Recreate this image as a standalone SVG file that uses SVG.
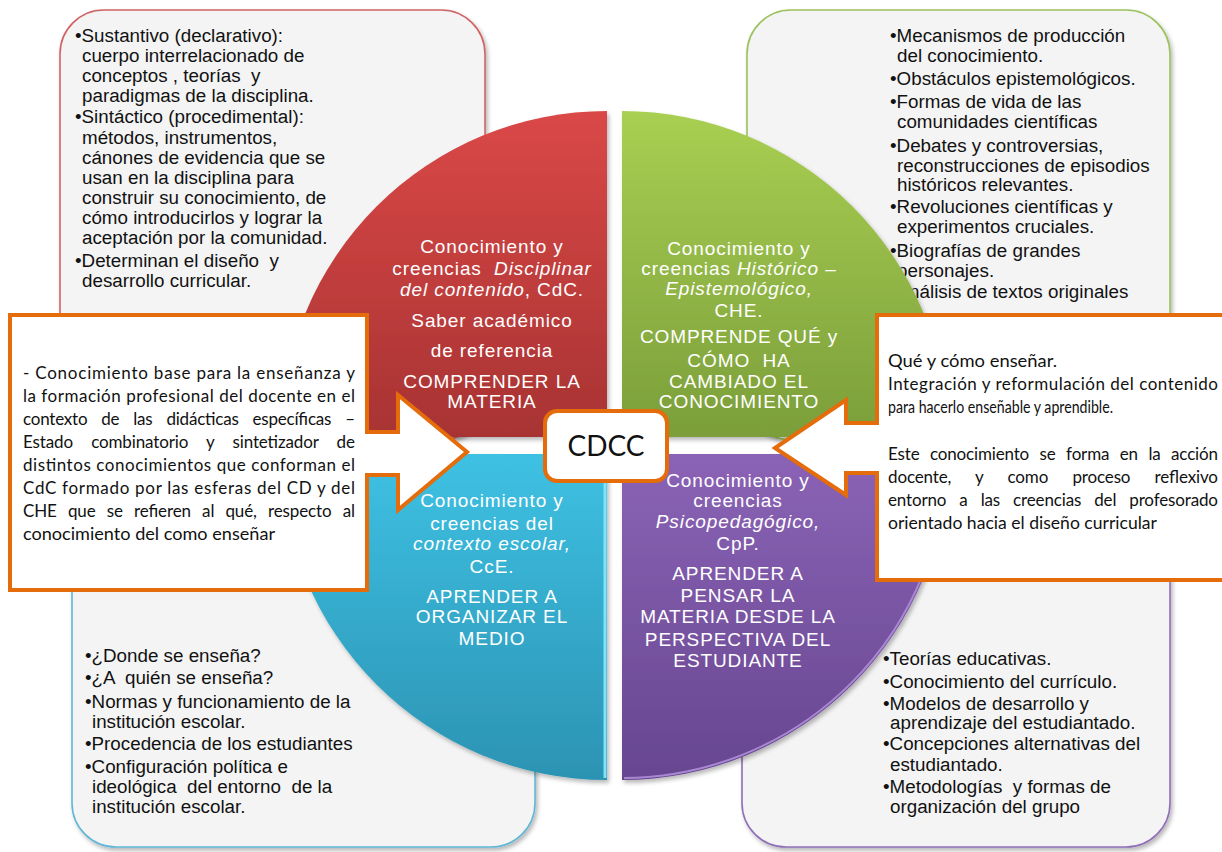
<svg xmlns="http://www.w3.org/2000/svg" width="1222" height="852" viewBox="0 0 1222 852" xml:space="preserve">
<defs>
  <filter id="shadow" x="-10%" y="-10%" width="120%" height="120%">
    <feDropShadow dx="2" dy="3" stdDeviation="2" flood-color="#000" flood-opacity="0.28"/>
  </filter>
  <linearGradient id="gRed" x1="0" y1="0" x2="0" y2="1">
    <stop offset="0" stop-color="#da4847"/>
    <stop offset="1" stop-color="#a83333"/>
  </linearGradient>
  <linearGradient id="gGreen" x1="0" y1="0" x2="0" y2="1">
    <stop offset="0" stop-color="#a9cf52"/>
    <stop offset="1" stop-color="#7b9e3a"/>
  </linearGradient>
  <linearGradient id="gBlue" x1="0" y1="0" x2="0" y2="1">
    <stop offset="0" stop-color="#3ec1e3"/>
    <stop offset="1" stop-color="#2c93b3"/>
  </linearGradient>
  <linearGradient id="gPurple" x1="0" y1="0" x2="0" y2="1">
    <stop offset="0" stop-color="#8b63b6"/>
    <stop offset="1" stop-color="#674690"/>
  </linearGradient>
  <style>
    text { white-space: pre; }
    .box { fill: #f4f4f4; stroke-width: 1.6; filter: url(#shadow); }
    .bt { font-family: "Liberation Sans", Arial, sans-serif; font-size: 18.8px; fill: #111; }
    .qt { font-family: "Liberation Sans", Arial, sans-serif; font-size: 19px; fill: #fff; text-anchor: middle; letter-spacing: 0.9px; }
    .it { font-style: italic; }
    .quad { filter: url(#shadow); }
    .call { fill: #fff; stroke: #e46c0a; stroke-width: 4; stroke-linejoin: miter; }
    .ct { font-family: Lato, "Noto Sans", sans-serif; font-size: 17px; fill: #111; }
  </style>
</defs>

<rect width="1222" height="852" fill="#fff"/>

<!-- corner boxes -->
<g id="box-disciplinar">
  <rect class="box" x="60" y="10" width="425" height="430" rx="44" stroke="#d06464"/>
  <text class="bt" x="75" y="42">•Sustantivo (declarativo):</text>
  <text class="bt" x="82" y="62">cuerpo interrelacionado de</text>
  <text class="bt" x="82" y="82">conceptos , teorías  y</text>
  <text class="bt" x="82" y="102">paradigmas de la disciplina.</text>
  <text class="bt" x="75" y="123">•Sintáctico (procedimental):</text>
  <text class="bt" x="82" y="144">métodos, instrumentos,</text>
  <text class="bt" x="82" y="164">cánones de evidencia que se</text>
  <text class="bt" x="82" y="184">usan en la disciplina para</text>
  <text class="bt" x="82" y="204">construir su conocimiento, de</text>
  <text class="bt" x="82" y="224">cómo introducirlos y lograr la</text>
  <text class="bt" x="82" y="244">aceptación por la comunidad.</text>
  <text class="bt" x="75" y="267">•Determinan el diseño  y</text>
  <text class="bt" x="82" y="287">desarrollo curricular.</text>
</g>

<g id="box-historico">
  <rect class="box" x="747" y="10" width="423" height="430" rx="44" stroke="#9cc25e"/>
  <text class="bt" x="890" y="42">•Mecanismos de producción</text>
  <text class="bt" x="897" y="62">del conocimiento.</text>
  <text class="bt" x="890" y="85">•Obstáculos epistemológicos.</text>
  <text class="bt" x="890" y="108">•Formas de vida de las</text>
  <text class="bt" x="897" y="128">comunidades científicas</text>
  <text class="bt" x="890" y="152">•Debates y controversias,</text>
  <text class="bt" x="897" y="172">reconstrucciones de episodios</text>
  <text class="bt" x="897" y="191">históricos relevantes.</text>
  <text class="bt" x="890" y="213">•Revoluciones científicas y</text>
  <text class="bt" x="897" y="233">experimentos cruciales.</text>
  <text class="bt" x="890" y="257">•Biografías de grandes</text>
  <text class="bt" x="897" y="277">personajes.</text>
  <text class="bt" x="890" y="298">•Análisis de textos originales</text>
</g>

<g id="box-contexto">
  <rect class="box" x="72" y="455" width="463" height="392" rx="44" stroke="#5fb6d6"/>
  <text class="bt" x="85" y="662">•¿Donde se enseña?</text>
  <text class="bt" x="85" y="684">•¿A  quién se enseña?</text>
  <text class="bt" x="85" y="708">•Normas y funcionamiento de la</text>
  <text class="bt" x="92" y="728">institución escolar.</text>
  <text class="bt" x="85" y="750">•Procedencia de los estudiantes</text>
  <text class="bt" x="85" y="773">•Configuración política e</text>
  <text class="bt" x="92" y="793">ideológica  del entorno  de la</text>
  <text class="bt" x="92" y="813">institución escolar.</text>
</g>

<g id="box-psicopedagogico">
  <rect class="box" x="742" y="460" width="428" height="387" rx="44" stroke="#8f6fb7"/>
  <text class="bt" x="883" y="665">•Teorías educativas.</text>
  <text class="bt" x="883" y="688">•Conocimiento del currículo.</text>
  <text class="bt" x="883" y="710">•Modelos de desarrollo y</text>
  <text class="bt" x="890" y="729">aprendizaje del estudiantado.</text>
  <text class="bt" x="883" y="750">•Concepciones alternativas del</text>
  <text class="bt" x="890" y="771">estudiantado.</text>
  <text class="bt" x="883" y="793">•Metodologías  y formas de</text>
  <text class="bt" x="890" y="813">organización del grupo</text>
</g>

<!-- four quarter-disc sectors -->
<g id="quad-cdc">
  <path class="quad" d="M607,437 L281,437 A326,326 0 0 1 607,111 Z" fill="url(#gRed)"/>
  <text class="qt" x="492" y="253">Conocimiento y</text>
  <text class="qt" x="492" y="275">creencias  <tspan class="it">Disciplinar</tspan></text>
  <text class="qt" x="492" y="296"><tspan class="it">del contenido</tspan>, CdC.</text>
  <text class="qt" x="492" y="327">Saber académico</text>
  <text class="qt" x="492" y="357">de referencia</text>
  <text class="qt" x="492" y="388">COMPRENDER LA</text>
  <text class="qt" x="492" y="408">MATERIA</text>
</g>

<g id="quad-che">
  <path class="quad" d="M622,437 L622,111 A326,326 0 0 1 948,437 Z" fill="url(#gGreen)"/>
  <text class="qt" x="739" y="255">Conocimiento y</text>
  <text class="qt" x="739" y="275">creencias <tspan class="it">Histórico –</tspan></text>
  <text class="qt" x="739" y="295"><tspan class="it">Epistemológico,</tspan></text>
  <text class="qt" x="739" y="317">CHE.</text>
  <text class="qt" x="739" y="343">COMPRENDE QUÉ y</text>
  <text class="qt" x="739" y="367">CÓMO  HA</text>
  <text class="qt" x="739" y="388">CAMBIADO EL</text>
  <text class="qt" x="739" y="408">CONOCIMIENTO</text>
</g>

<g id="quad-cce">
  <path class="quad" d="M607,454 L607,780 A326,326 0 0 1 281,454 Z" fill="url(#gBlue)"/>
  <line x1="605" y1="456" x2="605" y2="778" stroke="#7fe3fb" stroke-width="3"/>
  <text class="qt" x="492" y="507">Conocimiento y</text>
  <text class="qt" x="492" y="530">creencias del</text>
  <text class="qt" x="492" y="550"><tspan class="it">contexto escolar,</tspan></text>
  <text class="qt" x="492" y="573">CcE.</text>
  <text class="qt" x="492" y="603">APRENDER A</text>
  <text class="qt" x="492" y="623">ORGANIZAR EL</text>
  <text class="qt" x="492" y="645">MEDIO</text>
</g>

<g id="quad-cpp">
  <path class="quad" d="M622,454 L948,454 A326,326 0 0 1 622,780 Z" fill="url(#gPurple)"/>
  <path d="M624,778 A324,324 0 0 0 946,456" fill="none" stroke="#a988d2" stroke-width="2"/>
  <text class="qt" x="738" y="487">Conocimiento y</text>
  <text class="qt" x="738" y="507">creencias</text>
  <text class="qt" x="738" y="528"><tspan class="it">Psicopedagógico,</tspan></text>
  <text class="qt" x="738" y="550">CpP.</text>
  <text class="qt" x="738" y="580">APRENDER A</text>
  <text class="qt" x="738" y="602">PENSAR LA</text>
  <text class="qt" x="738" y="623">MATERIA DESDE LA</text>
  <text class="qt" x="738" y="646">PERSPECTIVA DEL</text>
  <text class="qt" x="738" y="667">ESTUDIANTE</text>
</g>

<!-- arrow callouts pointing at the centre; justified lines use word-spacing plus textLength -->
<g id="callout-left">
  <polygon class="call" points="10,315 367,315 367,432 398,432 398,395 467,452 398,510 398,475 367,475 367,590 10,590"/>
  <text class="ct" x="23" y="379" textLength="332" lengthAdjust="spacing">- Conocimiento base para la enseñanza y</text>
  <text class="ct" x="23" y="402" textLength="332" lengthAdjust="spacing">la formación profesional del docente en el</text>
  <text class="ct" x="23" y="425" word-spacing="9.8" textLength="332" lengthAdjust="spacing">contexto de las didácticas específicas –</text>
  <text class="ct" x="23" y="448" word-spacing="14" textLength="332" lengthAdjust="spacing">Estado combinatorio y sintetizador de</text>
  <text class="ct" x="23" y="471" textLength="332" lengthAdjust="spacing">distintos conocimientos que conforman el</text>
  <text class="ct" x="23" y="494" textLength="332" lengthAdjust="spacing">CdC formado por las esferas del CD y del</text>
  <text class="ct" x="23" y="517" word-spacing="6.9" textLength="332" lengthAdjust="spacing">CHE que se refieren al qué, respecto al</text>
  <text class="ct" x="23" y="540" textLength="252" lengthAdjust="spacingAndGlyphs">conocimiento del como enseñar</text>
</g>

<g id="callout-right">
  <polygon class="call" points="1232,315 877,315 877,423 846,423 846,400 775,448 846,495 846,473 877,473 877,580 1232,580"/>
  <text class="ct" x="888" y="367" textLength="169" lengthAdjust="spacingAndGlyphs">Qué y cómo enseñar.</text>
  <text class="ct" x="888" y="390" textLength="330" lengthAdjust="spacing">Integración y reformulación del contenido</text>
  <text class="ct" x="888" y="413" textLength="225" lengthAdjust="spacingAndGlyphs">para hacerlo enseñable y aprendible.</text>
  <text class="ct" x="888" y="460" word-spacing="6.3" textLength="330" lengthAdjust="spacing">Este conocimiento se forma en la acción</text>
  <text class="ct" x="888" y="483" word-spacing="20" textLength="330" lengthAdjust="spacing">docente, y como proceso reflexivo</text>
  <text class="ct" x="888" y="506" word-spacing="8.8" textLength="330" lengthAdjust="spacing">entorno a las creencias del profesorado</text>
  <text class="ct" x="888" y="529" textLength="269" lengthAdjust="spacingAndGlyphs">orientado hacia el diseño curricular</text>
</g>

<!-- centre label -->
<g id="node-cdcc">
  <rect x="545" y="411" width="122" height="70" rx="12" fill="#fff" stroke="#e46c0a" stroke-width="4"/>
  <text x="606" y="456" font-family="Lato, 'Noto Sans', sans-serif" font-size="28" fill="#111" text-anchor="middle">CDCC</text>
</g>
</svg>
